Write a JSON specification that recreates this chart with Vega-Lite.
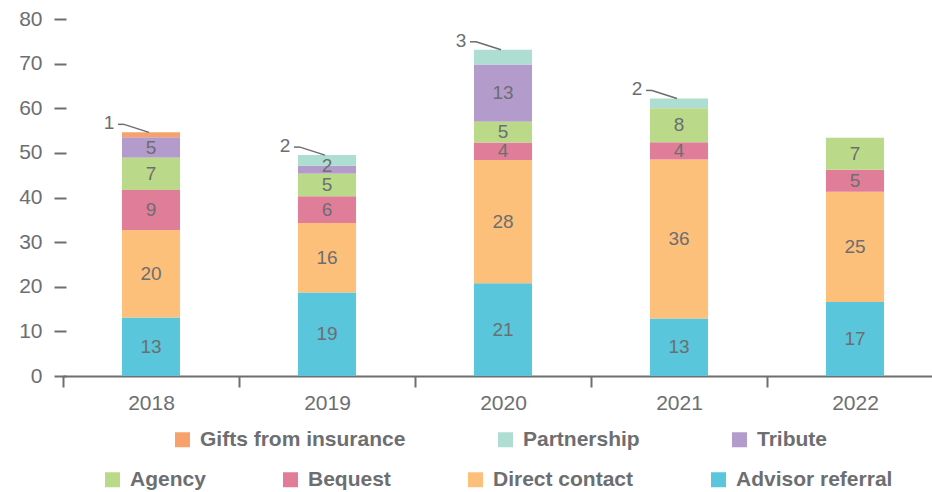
{
  "$schema": "https://vega.github.io/schema/vega-lite/v6.json",
  "width": 860,
  "height": 357,
  "autosize": {"type": "none"},
  "padding": {"left": 66, "top": 19, "right": 6, "bottom": 116},
  "background": "white",
  "config": {
    "font": "Liberation Sans",
    "view": {"stroke": null},
    "axisY": {"domain": false, "grid": false, "tickSize": 12, "tickWidth": 2, "tickColor": "#6d6e71", "labelPadding": 12, "labelFontSize": 21, "labelColor": "#6d6e71", "tickCount": 8, "title": null},
    "legend": {"symbolType": "square", "symbolSize": 225, "symbolStrokeWidth": 0, "labelFontSize": 21, "labelFontWeight": "bold", "labelColor": "#6d6e71", "labelOffset": 7, "labelLimit": 400, "title": null, "padding": 0}
  },
  "data": {
    "values": [
      {"year": "2018", "cat": "Advisor referral", "value": 13.1},
      {"year": "2018", "cat": "Direct contact", "value": 19.6},
      {"year": "2018", "cat": "Bequest", "value": 9.0},
      {"year": "2018", "cat": "Agency", "value": 7.2},
      {"year": "2018", "cat": "Tribute", "value": 4.6},
      {"year": "2018", "cat": "Gifts from insurance", "value": 1.1},
      {"year": "2019", "cat": "Advisor referral", "value": 18.7},
      {"year": "2019", "cat": "Direct contact", "value": 15.6},
      {"year": "2019", "cat": "Bequest", "value": 6.0},
      {"year": "2019", "cat": "Agency", "value": 5.0},
      {"year": "2019", "cat": "Tribute", "value": 1.8},
      {"year": "2019", "cat": "Partnership", "value": 2.4},
      {"year": "2020", "cat": "Advisor referral", "value": 20.8},
      {"year": "2020", "cat": "Direct contact", "value": 27.6},
      {"year": "2020", "cat": "Bequest", "value": 3.9},
      {"year": "2020", "cat": "Agency", "value": 4.7},
      {"year": "2020", "cat": "Tribute", "value": 12.8},
      {"year": "2020", "cat": "Partnership", "value": 3.3},
      {"year": "2021", "cat": "Advisor referral", "value": 12.9},
      {"year": "2021", "cat": "Direct contact", "value": 35.6},
      {"year": "2021", "cat": "Bequest", "value": 3.9},
      {"year": "2021", "cat": "Agency", "value": 7.6},
      {"year": "2021", "cat": "Partnership", "value": 2.2},
      {"year": "2022", "cat": "Advisor referral", "value": 16.6},
      {"year": "2022", "cat": "Direct contact", "value": 24.7},
      {"year": "2022", "cat": "Bequest", "value": 4.9},
      {"year": "2022", "cat": "Agency", "value": 7.2}
    ]
  },
  "transform": [
    {"stack": "value", "groupby": ["year"], "as": ["y0", "y1"]}
  ],
  "encoding": {
    "x": {
      "field": "year", "type": "nominal",
      "scale": {"range": [-3, 877], "paddingInner": 0, "paddingOuter": 0},
      "axis": {"title": null, "labelAngle": 0, "tickBand": "extent", "domainColor": "#6d6e71", "domainWidth": 2, "tickColor": "#6d6e71", "tickWidth": 2, "tickSize": 11, "labelFontSize": 21, "labelColor": "#6d6e71", "labelPadding": 5}
    }
  },
  "layer": [
    {
      "transform": [{"filter": "indexof(['Gifts from insurance','Partnership','Tribute'], datum.cat) >= 0"}],
      "mark": {"type": "bar", "width": {"band": 0.33}},
      "encoding": {
        "y": {"field": "y0", "type": "quantitative", "scale": {"domain": [0, 80]}, "title": null},
        "y2": {"field": "y1"},
        "color": {
          "field": "cat", "type": "nominal",
          "scale": {"domain": ["Gifts from insurance", "Partnership", "Tribute"], "range": ["#f7a16b", "#aeddd1", "#b39bcb"]},
          "legend": {"orient": "none", "legendX": 106, "legendY": 410, "direction": "horizontal", "columnPadding": 89}
        }
      }
    },
    {
      "transform": [{"filter": "indexof(['Agency','Bequest','Direct contact','Advisor referral'], datum.cat) >= 0"}],
      "mark": {"type": "bar", "width": {"band": 0.33}},
      "encoding": {
        "y": {"field": "y0", "type": "quantitative", "title": null},
        "y2": {"field": "y1"},
        "color": {
          "field": "cat", "type": "nominal",
          "scale": {"domain": ["Agency", "Bequest", "Direct contact", "Advisor referral"], "range": ["#bbda89", "#e07e9a", "#fcc07a", "#59c6db"]},
          "legend": {"orient": "none", "legendX": 36, "legendY": 450, "direction": "horizontal", "columnPadding": 74}
        }
      }
    },
    {
      "transform": [
        {"filter": "!((datum.cat == 'Partnership' || datum.cat == 'Gifts from insurance') && datum.value < 3.5)"},
        {"calculate": "datum.value < 2 ? datum.y1 : (datum.y0 + datum.y1) / 2", "as": "mid"}
      ],
      "mark": {"type": "text", "fontSize": 19, "color": "#6d6e71", "baseline": "middle", "align": "center"},
      "encoding": {
        "y": {"field": "mid", "type": "quantitative", "title": null},
        "text": {"field": "value", "type": "quantitative", "format": ".0f"}
      }
    },
    {
      "transform": [{"filter": "(datum.cat == 'Partnership' || datum.cat == 'Gifts from insurance') && datum.value < 3.5"}],
      "mark": {"type": "rule", "color": "#6d6e71", "strokeWidth": 1.5, "xOffset": -33, "yOffset": -8, "x2Offset": -27, "y2Offset": -8},
      "encoding": {
        "x": {"field": "year", "type": "nominal", "bandPosition": 0.5},
        "x2": {"field": "year", "bandPosition": 0.5},
        "y": {"field": "y1", "type": "quantitative", "title": null},
        "y2": {"field": "y1"}
      }
    },
    {
      "transform": [{"filter": "(datum.cat == 'Partnership' || datum.cat == 'Gifts from insurance') && datum.value < 3.5"}],
      "mark": {"type": "rule", "color": "#6d6e71", "strokeWidth": 1.5, "xOffset": -27, "yOffset": -8, "x2Offset": -2, "y2Offset": 0},
      "encoding": {
        "x": {"field": "year", "type": "nominal", "bandPosition": 0.5},
        "x2": {"field": "year", "bandPosition": 0.5},
        "y": {"field": "y1", "type": "quantitative", "title": null},
        "y2": {"field": "y1"}
      }
    },
    {
      "transform": [{"filter": "(datum.cat == 'Partnership' || datum.cat == 'Gifts from insurance') && datum.value < 3.5"}],
      "mark": {"type": "text", "fontSize": 19, "color": "#6d6e71", "baseline": "middle", "align": "center", "dx": -42, "dy": -9},
      "encoding": {
        "y": {"field": "y1", "type": "quantitative", "title": null},
        "text": {"field": "value", "type": "quantitative", "format": ".0f"}
      }
    }
  ],
  "resolve": {"scale": {"color": "independent"}}
}
